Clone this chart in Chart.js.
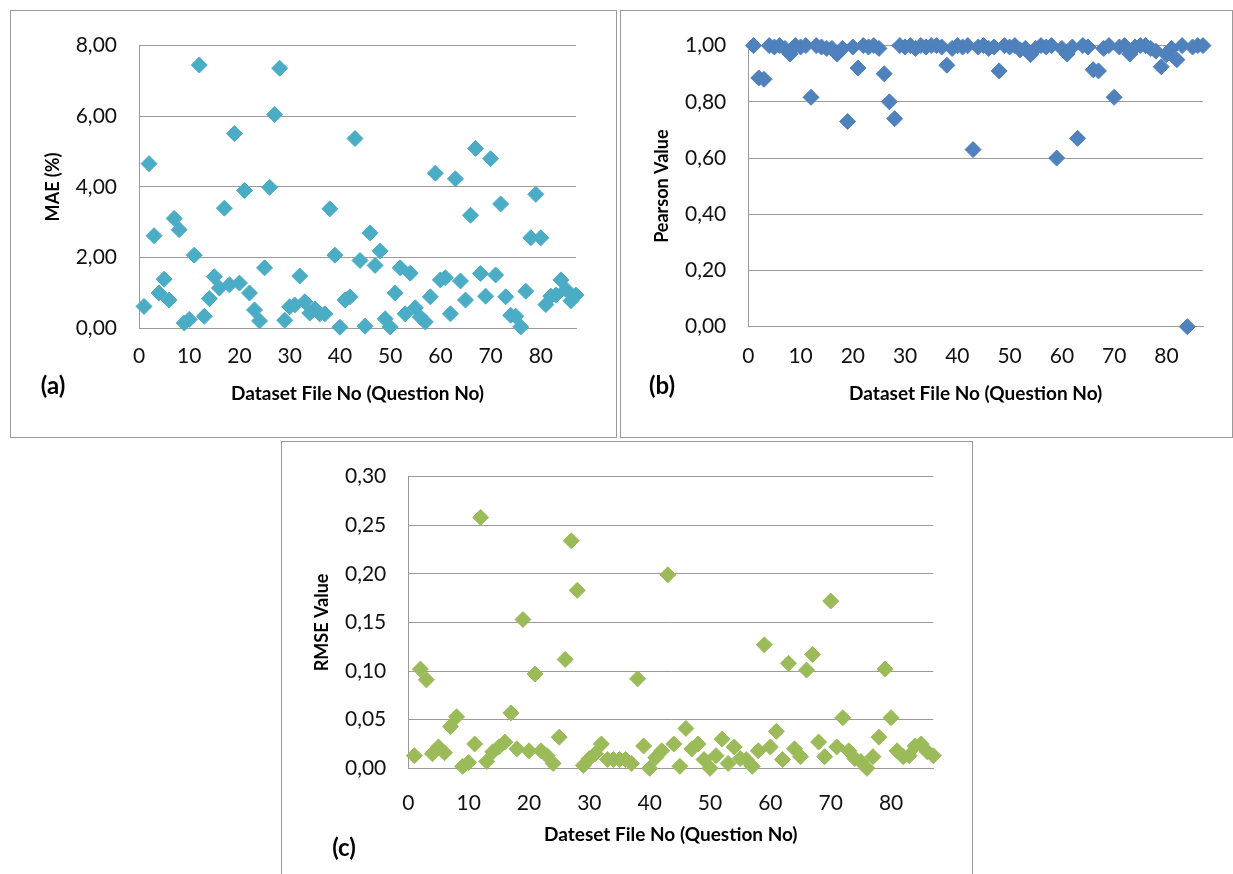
<!DOCTYPE html>
<html>
<head>
<meta charset="utf-8">
<script src="https://cdn.jsdelivr.net/npm/chart.js@4.4.0/dist/chart.umd.min.js"></script>
<style>
    body { margin: 0; background: #fff; width: 1233px; height: 874px; position: relative; overflow: hidden; }
    .panel { position: absolute; border: 1px solid #9a9a9a; box-sizing: border-box; background: #fff; }
    .panel canvas { position: absolute; left: 0; top: 0; }
</style>
</head>
<body>
<div class="panel" style="left:10px;top:10px;width:607px;height:428px"><canvas id="chartA" width="605" height="426"></canvas></div>
<div class="panel" style="left:620px;top:10px;width:613px;height:428px"><canvas id="chartB" width="611" height="426"></canvas></div>
<div class="panel" style="left:281px;top:441px;width:692px;height:436px"><canvas id="chartC" width="690" height="434"></canvas></div>
<script>
"use strict";

// x = dataset file no (question no)
const fileNo = [
    1, 2, 3, 4, 5, 6, 7, 8, 9, 10, 11, 12, 13, 14, 15, 16, 17, 18, 19, 20,
    21, 22, 23, 24, 25, 26, 27, 28, 29, 30, 31, 32, 33, 34, 35, 36, 37, 38, 39, 40,
    41, 42, 43, 44, 45, 46, 47, 48, 49, 50, 51, 52, 53, 54, 55, 56, 57, 58, 59, 60,
    61, 62, 63, 64, 65, 66, 67, 68, 69, 70, 71, 72, 73, 74, 75, 76, 77, 78, 79, 80,
    81, 82, 83, 84, 85, 86, 87
];

// (a) MAE (%)
const maeValues = [
    0.62, 4.66, 2.62, 1.00, 1.39, 0.80, 3.11, 2.79, 0.15, 0.25,
    2.07, 7.45, 0.34, 0.84, 1.46, 1.14, 3.40, 1.23, 5.51, 1.28,
    3.90, 1.00, 0.52, 0.21, 1.71, 3.99, 6.05, 7.36, 0.23, 0.61,
    0.66, 1.48, 0.75, 0.43, 0.55, 0.41, 0.41, 3.38, 2.07, 0.03,
    0.80, 0.89, 5.37, 1.92, 0.06, 2.70, 1.78, 2.19, 0.27, 0.04,
    1.00, 1.71, 0.41, 1.56, 0.58, 0.32, 0.18, 0.89, 4.39, 1.37,
    1.43, 0.41, 4.23, 1.34, 0.80, 3.20, 5.09, 1.55, 0.91, 4.80,
    1.51, 3.52, 0.89, 0.37, 0.34, 0.04, 1.05, 2.56, 3.79, 2.56,
    0.67, 0.91, 0.94, 1.37, 1.10, 0.78, 0.94
];

// (b) Pearson value
const pearsonValues = [
    1.00, 0.885, 0.88, 1.00, 0.995, 1.00, 0.99, 0.97, 1.00, 0.995,
    1.00, 0.816, 1.00, 0.995, 0.99, 0.99, 0.97, 0.99, 0.73, 0.995,
    0.92, 1.00, 0.995, 1.00, 0.99, 0.90, 0.80, 0.74, 1.00, 0.995,
    1.00, 0.99, 1.00, 0.995, 1.00, 1.00, 0.995, 0.93, 0.99, 1.00,
    0.995, 1.00, 0.63, 0.995, 1.00, 0.99, 0.995, 0.91, 1.00, 0.995,
    1.00, 0.985, 0.99, 0.968, 0.99, 1.00, 0.995, 1.00, 0.60, 0.99,
    0.97, 0.995, 0.67, 1.00, 0.995, 0.914, 0.91, 0.99, 1.00, 0.816,
    0.995, 1.00, 0.97, 0.995, 1.00, 1.00, 0.99, 0.98, 0.925, 0.968,
    0.99, 0.95, 1.00, 0.00, 0.995, 1.00, 1.00
];

// (c) RMSE value
const rmseValues = [
    0.013, 0.102, 0.091, 0.015, 0.022, 0.016, 0.043, 0.053, 0.002, 0.006,
    0.025, 0.258, 0.007, 0.017, 0.022, 0.027, 0.057, 0.020, 0.153, 0.018,
    0.097, 0.018, 0.013, 0.005, 0.032, 0.112, 0.234, 0.183, 0.003, 0.010,
    0.015, 0.025, 0.009, 0.009, 0.009, 0.009, 0.005, 0.092, 0.023, 0.000,
    0.011, 0.018, 0.199, 0.025, 0.002, 0.041, 0.020, 0.025, 0.009, 0.000,
    0.013, 0.030, 0.005, 0.022, 0.010, 0.009, 0.002, 0.018, 0.127, 0.022,
    0.038, 0.009, 0.108, 0.020, 0.012, 0.101, 0.117, 0.027, 0.012, 0.172,
    0.022, 0.052, 0.018, 0.010, 0.007, 0.000, 0.012, 0.032, 0.102, 0.052,
    0.018, 0.012, 0.013, 0.023, 0.025, 0.017, 0.013
];

const xTicks = [0, 10, 20, 30, 40, 50, 60, 70, 80];
const xMax = 87;
const maeTicks = [0, 2, 4, 6, 8];
const pearsonTicks = [0, 0.2, 0.4, 0.6, 0.8, 1.0];
const rmseTicks = [0, 0.05, 0.10, 0.15, 0.20, 0.25, 0.30];

const lineColor = "#9a9a9a";
const tickFont = { family: "Lato", size: 21 };
const titleFont = { family: "Lato", size: 18, weight: "bold" };

/** Буква панели "(a)", "(b)", "(c)" — рисуется поверх графика. */
const panelLetter = {
    id: "panelLetter",
    afterDraw(chart, args, opts) {
        const c = chart.ctx;
        c.save();
        c.font = "bold 24px Lato";
        c.fillStyle = "#000";
        c.textAlign = "center";
        c.textBaseline = "middle";
        c.fillText(opts.text, opts.x, opts.y);
        c.restore();
    },
};

function toTicks(list) {
    return list.map(v => ({ value: v }));
}

function makePanel(canvasId, o) {
    const ctx = document.getElementById(canvasId).getContext("2d");
    return new Chart(ctx, {
        type: "scatter",
        data: {
            datasets: [{
                data: fileNo.map((x, i) => ({ x, y: o.values[i] })),
                pointStyle: "rectRot",
                pointRadius: 8,
                pointHoverRadius: 8,
                pointBackgroundColor: o.color,
                pointBorderColor: o.color,
                pointBorderWidth: 1,
                clip: false,
            }],
        },
        options: {
            responsive: false,
            animation: false,
            events: [],
            layout: { padding: { left: 0, top: o.top, right: o.right, bottom: 0 } },
            plugins: {
                legend: { display: false },
                tooltip: { enabled: false },
                panelLetter: o.letter,
            },
            scales: {
                x: {
                    type: "linear",
                    min: 0, max: xMax,
                    afterBuildTicks: s => { s.ticks = toTicks(xTicks); },
                    afterFit: s => { s.height = o.xAxisH; },
                    grid: { display: false, drawTicks: false },
                    border: { display: true, color: lineColor, width: 1 },
                    ticks: { padding: o.xTickPad, color: "#111", font: tickFont, maxRotation: 0, autoSkip: false },
                    title: {
                        display: true, text: o.xTitle, color: "#000",
                        font: { family: "Lato", size: 19, weight: "bold" },
                        padding: { top: 0, bottom: o.xTitlePad },
                    },
                },
                y: {
                    min: o.yTicks[0], max: o.yTicks[o.yTicks.length - 1],
                    afterBuildTicks: s => { s.ticks = toTicks(o.yTicks); },
                    afterFit: s => { s.width = o.left; },
                    grid: { color: lineColor, lineWidth: 1, drawTicks: false },
                    border: { display: true, color: lineColor, width: 1 },
                    ticks: {
                        padding: 22, color: "#111", font: tickFont,
                        callback: v => v.toFixed(2).replace(".", ","),
                    },
                    title: {
                        display: true, text: o.yTitle, color: "#000", font: titleFont,
                        padding: { top: o.yTitlePad, bottom: 0 },
                    },
                },
            },
        },
        plugins: [panelLetter],
    });
}

makePanel("chartA", {
    values: maeValues, color: "#4BACC6", yTicks: maeTicks,
    left: 128, top: 25.7, right: 40, xAxisH: 108.7,
    xTickPad: 15, xTitlePad: 31.6, yTitlePad: 31.2,
    xTitle: "Dataset File No (Question No)", yTitle: "MAE (%)",
    letter: { text: "(a)", x: 42, y: 375 },
});

makePanel("chartB", {
    values: pearsonValues, color: "#4F81BD", yTicks: pearsonTicks,
    left: 127.3, top: 25.7, right: 29, xAxisH: 110.3,
    xTickPad: 16.7, xTitlePad: 31.6, yTitlePad: 30.7,
    xTitle: "Dataset File No (Question No)", yTitle: "Pearson Value",
    letter: { text: "(b)", x: 41, y: 375 },
});

makePanel("chartC", {
    values: rmseValues, color: "#9BBB59", yTicks: rmseTicks,
    left: 126.3, top: 26.3, right: 38.7, xAxisH: 107.7,
    xTickPad: 22, xTitlePad: 29.6, yTitlePad: 29.7,
    xTitle: "Dateset File No (Question No)", yTitle: "RMSE Value",
    letter: { text: "(c)", x: 62, y: 406 },
});
</script>
</body>
</html>
